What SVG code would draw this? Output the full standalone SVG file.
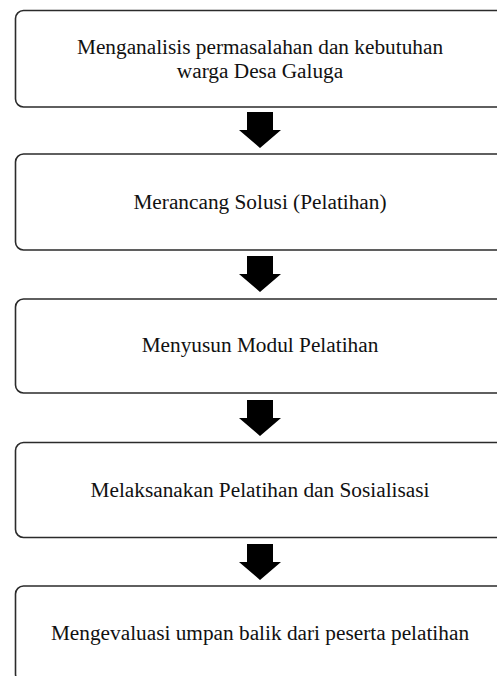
<svg xmlns="http://www.w3.org/2000/svg" width="497" height="676" viewBox="0 0 497 676">
<style>
.box{fill:#ffffff;stroke:#2b2b2b;stroke-width:1.6}
.lbl{font-family:"Liberation Serif","Times New Roman",serif;font-size:21.3px;fill:#111111;text-anchor:middle}
.arr{fill:#000000}
</style>
<rect width="497" height="676" fill="#ffffff"/>
<g id="node1">
<rect class="box" x="15.5" y="10.5" width="490" height="96.5" rx="8"/>
<text class="lbl" x="260" y="53.5"><tspan x="260" y="53.5">Menganalisis permasalahan dan kebutuhan</tspan><tspan x="260" y="77.5">warga Desa Galuga</tspan></text>
</g>
<g id="node2">
<rect class="box" x="15.5" y="154" width="490" height="96" rx="8"/>
<text class="lbl" x="260" y="209">Merancang Solusi (Pelatihan)</text>
</g>
<g id="node3">
<rect class="box" x="15.5" y="299" width="490" height="94" rx="8"/>
<text class="lbl" x="260" y="352">Menyusun Modul Pelatihan</text>
</g>
<g id="node4">
<rect class="box" x="15.5" y="442.5" width="490" height="95" rx="8"/>
<text class="lbl" x="260" y="497">Melaksanakan Pelatihan dan Sosialisasi</text>
</g>
<g id="node5">
<rect class="box" x="15.5" y="586" width="490" height="96" rx="8"/>
<text class="lbl" x="260" y="640">Mengevaluasi umpan balik dari peserta pelatihan</text>
</g>
<g id="connectors">
<polygon class="arr" points="247,112 273,112 273,130 281,130 260,148 239,130 247,130"/>
<polygon class="arr" points="247,256 273,256 273,274 281,274 260,292 239,274 247,274"/>
<polygon class="arr" points="247,400 273,400 273,418 281,418 260,436 239,418 247,418"/>
<polygon class="arr" points="247,544 273,544 273,562 281,562 260,580 239,562 247,562"/>
</g>
</svg>
